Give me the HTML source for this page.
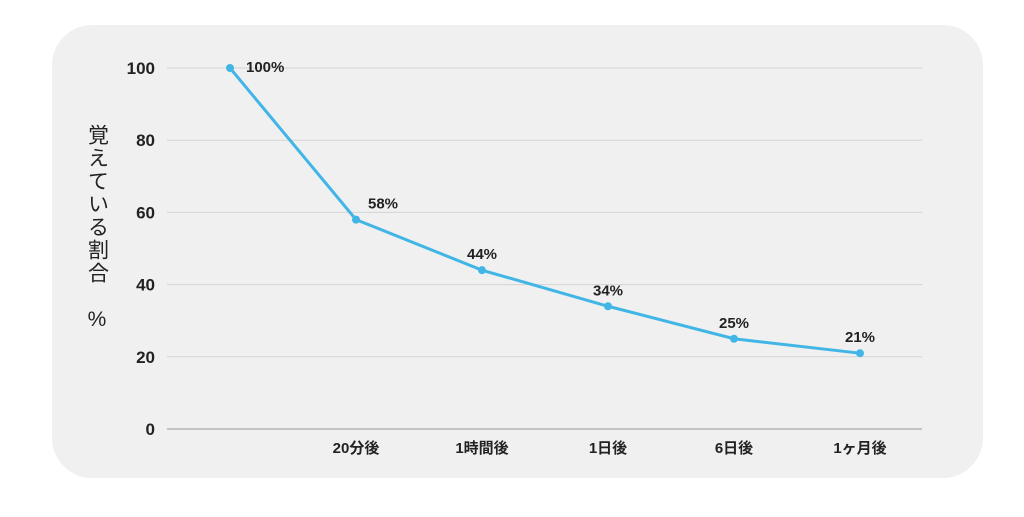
<!DOCTYPE html>
<html><head><meta charset="utf-8"><style>
body{margin:0;background:#fff;width:1024px;height:512px;overflow:hidden}
svg text{font-family:"Liberation Sans","Noto Sans CJK JP",sans-serif}
</style></head><body>
<svg width="1024" height="512">
<rect x="52" y="25" width="931" height="453" rx="40" fill="#f0f0f0"/>
<g id="grid"></g><g id="yt"></g><g id="xt"></g>
<polyline id="line" fill="none" stroke="#41b6e6" stroke-width="3"/>
<g id="pts"></g>
<text x="97" y="124" font-size="21" fill="#222" style="writing-mode:vertical-rl;letter-spacing:2px">覚えている割合</text>
<text x="97" y="326" font-size="21" fill="#222" text-anchor="middle">%</text>
</svg>
<script>
const categories=["","20分後","1時間後","1日後","6日後","1ヶ月後"];
const values=[100,58,44,34,25,21];
const yTicks=[0,20,40,60,80,100];
const NS="http://www.w3.org/2000/svg";
const y=v=>429-v*3.61, x=i=>230+i*126;
function mk(tag,attrs,parent,txt){const e=document.createElementNS(NS,tag);for(const k in attrs)e.setAttribute(k,attrs[k]);if(txt!==undefined)e.textContent=txt;document.getElementById(parent).appendChild(e);return e;}
yTicks.forEach(t=>{
 const l=mk('line',{x1:167,x2:922,y1:y(t),y2:y(t),stroke:t===0?'#999':'#d4d4d4','stroke-width':1},'grid');
 
 
 const tx=mk('text',{x:155,y:y(t)+6,'text-anchor':'end','font-size':17,'font-weight':'bold',fill:'#222'},'yt',t);
 
 
});
categories.forEach((c,i)=>{
 const tx=mk('text',{x:x(i),y:453,'text-anchor':'middle','font-size':15,'font-weight':'bold',fill:'#222'},'xt',c);
 
 
});
document.getElementById('line').setAttribute('points',values.map((v,i)=>x(i)+','+y(v)).join(' '));
values.forEach((v,i)=>{
 const c=mk('circle',{cx:x(i),cy:y(v),r:4,fill:'#41b6e6'},'pts');
 
 
 const first=i===0;
 const tx=mk('text',{x:first?x(i)+16:x(i)+(i===1?12:0),y:first?y(v)+4:y(v)-11,'text-anchor':(first||i===1)?'start':'middle','font-size':15,'font-weight':'bold',fill:'#222'},'pts',v+'%');
 
 
});
</script>
</body></html>
